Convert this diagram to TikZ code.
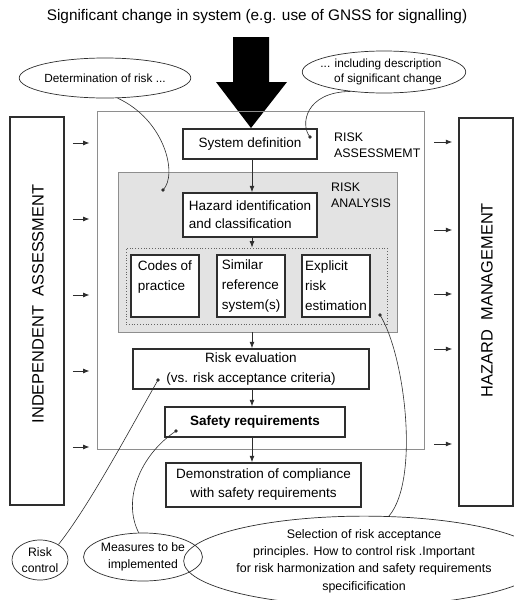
\documentclass[tikz,border=0pt]{standalone}
\usepackage{fontspec}
\setmainfont{Liberation Sans}
\usetikzlibrary{arrows.meta,shapes.geometric}
\definecolor{dk}{HTML}{2E2E2E}
\definecolor{gl}{HTML}{8E8E8E}
\definecolor{gf}{HTML}{E3E3E3}
\newcommand\fsz[2]{\fontsize{#1}{#2}\selectfont}
\begin{document}
\begin{tikzpicture}[x=1pt,y=-1pt,
  box/.style={draw=dk, line width=1.5pt, fill=white, inner sep=0pt, font=\fsz{13.5}{19}},
  sidebox/.style={draw=dk, line width=1.5pt, inner sep=0pt, minimum width=54pt, minimum height=388pt},
  callout/.style={draw=dk, line width=0.6pt},
  bubble/.style={ellipse, draw=dk, line width=0.7pt, inner sep=0pt, align=center},
  dotn/.style={circle, fill=dk, inner sep=0pt, minimum size=3.8pt},
  arr/.style={draw=dk, line width=0.8pt, -{Latex[length=6.5pt,width=5pt]}},
  lbl/.style={inner sep=0pt, align=left, font=\fsz{12.4}{16}}
]
\useasboundingbox (0,0) rectangle (514,600);
\fill[white] (0,0) rectangle (514,600);

% title
\node[font=\fsz{15.35}{18}] (title) at (257,17) {Significant change in system (e.g. use of GNSS for signalling)};

% big arrow
\fill[black] (233,37) -- (269,37) -- (269,82) -- (287,82) -- (251,128) -- (216,82) -- (233,82) -- cycle;

% outer risk assessment box
\node[draw=gl, line width=0.9pt, minimum width=327pt, minimum height=338pt, inner sep=0pt] (ra) at (260.5,280) {};
% risk analysis grey box
\node[draw=gl, fill=gf, line width=0.9pt, minimum width=279pt, minimum height=160pt, inner sep=0pt] (ga) at (257.5,252) {};
% dotted box
\node[draw=gl!70!black, dotted, line width=0.8pt, minimum width=261pt, minimum height=76pt, inner sep=0pt] (db) at (256.5,286) {};

% side boxes
\node[sidebox] (ia) at (37,311) {};
\node[sidebox] (hm) at (486,312) {};
\node[rotate=90, font=\fsz{16.4}{18}] (iat) at (38,304) {INDEPENDENT\ \ ASSESSMENT};
\node[rotate=90, font=\fsz{16.4}{18}] (hmt) at (487,300) {HAZARD\ \ MANAGEMENT};

% main boxes
\node[box, minimum width=134pt, minimum height=30pt] (sd) at (250,144) {System definition};
\node[box, minimum width=134pt, minimum height=44pt, align=left, font=\fsz{13.5}{18}] (hz) at (250,215) {Hazard identification\\and classification};
\node[box, minimum width=68pt, minimum height=62pt, align=left, font=\fsz{13.5}{20}] (cp) at (165,286) {Codes of\\practice\\\mbox{}};
\node[box, minimum width=68pt, minimum height=62pt, align=left, font=\fsz{13.5}{20}] (sr) at (251,286) {Similar\\reference\\system(s)};
\node[box, minimum width=68pt, minimum height=62pt, align=left, font=\fsz{13.5}{20}] (ex) at (336,286) {Explicit\\risk\\estimation};
\node[box, minimum width=236pt, minimum height=40pt, align=center, font=\fsz{13.5}{20}] (re) at (251,369) {Risk evaluation\\(vs. risk acceptance criteria)};
\node[box, minimum width=180pt, minimum height=30pt, font=\fsz{13.5}{18}\bfseries] (sq) at (255,422) {Safety requirements};
\node[box, minimum width=195pt, minimum height=44pt, align=center, font=\fsz{13.5}{19}] (dm) at (263.5,485) {Demonstration of compliance\\with safety requirements};

% labels
\node[lbl, anchor=west] (lra) at (334,145) {RISK\\ASSESSMEMT};
\node[lbl, anchor=west] (lan) at (331,195) {RISK\\ANALYSIS};

% bubbles
\node[bubble, minimum width=140pt, minimum height=40pt, font=\fsz{11.8}{14}] (det) at (105,78) {Determination of risk ...};
\node[bubble, minimum width=136pt, minimum height=42pt, font=\fsz{11.8}{14.5}] (incl) at (384,72) {\hspace*{-6pt}... including description\\\hspace*{8pt}of significant change};
\node[bubble, minimum width=56pt, minimum height=40pt, font=\fsz{12.2}{16}] (rc) at (40,560) {Risk\\control};
\node[bubble, minimum width=116pt, minimum height=48pt, font=\fsz{12.2}{17}] (meas) at (143,557) {Measures to be\\implemented};
\node[bubble, minimum width=296pt, minimum height=76pt, font=\fsz{12.4}{17.3}] (sel) at (364,561) {Selection of risk acceptance\\principles. How to control risk .Important\\for risk harmonization and safety requirements\\specificification};

% vertical flow arrows
\coordinate (col) at (252,0);
\draw[arr] (sd.south -| col) -- (hz.north -| col);
\draw[arr] (hz.south -| col) -- (db.north -| col);
\draw[arr] (ga.south -| col) -- (re.north -| col);
\draw[arr] (re.south -| col) -- (sq.north -| col);
\draw[arr] (sq.south -| col) -- (dm.north -| col);

% side arrows
\foreach \yy in {143,219,295,371,447}
  \draw[arr, shorten <=8pt, shorten >=7pt] (ia.east |- 0,\yy) -- (ra.west |- 0,\yy);
\foreach \yy in {142,230,294,349,444}
  \draw[arr, shorten <=10pt, shorten >=6pt] (ra.east |- 0,\yy) -- (hm.west |- 0,\yy);

% dots
\node[dotn] (d1) at (163,190) {};
\node[dotn] (d2) at (310,137) {};
\node[dotn] (d3) at (380,315) {};
\node[dotn] (d4) at (158,380) {};
\node[dotn] (d5) at (176,431) {};

% callouts
\draw[callout] (det.-58) .. controls (165,120) and (178,175) .. (d1.center);
\draw[callout] (incl.210) .. controls (305,92) and (300,125) .. (d2.center);
\draw[callout] (d3.center) .. controls (405,355) and (420,480) .. (sel.61);
\draw[callout] (d4.center) .. controls (135,420) and (90,505) .. (rc.40);
\draw[callout] (d5.center) .. controls (140,455) and (122,500) .. (meas.100);
\end{tikzpicture}
\end{document}
